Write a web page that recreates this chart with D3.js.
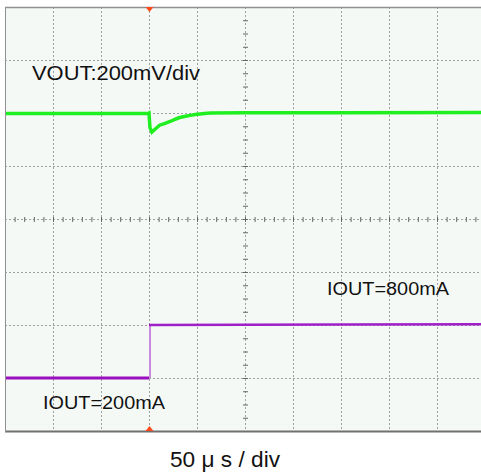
<!DOCTYPE html>
<html>
<head>
<meta charset="utf-8">
<script src="https://cdn.jsdelivr.net/npm/d3@7"></script>
<style>
  body { margin: 0; background: #fff; }
  text { font-family: "Liberation Sans", Arial, sans-serif; fill: #111; }
</style>
</head>
<body>
<script>
// time in microseconds (trigger at 0), 50 us / div, 10 div
const timeDomain = [-150, 350];
const timeGrid = [-150, -100, -50, 0, 50, 100, 150, 200, 250, 300, 350];
// vertical divisions
const divGrid = [-4, -3, -2, -1, 0, 1, 2, 3, 4];

// VOUT deviation (mV), 200 mV/div, channel offset +2 div
const voutT = [-150, -100, -50, -1, 0, 1, 3, 6, 11, 16, 22, 27, 32, 38, 43, 48, 53, 58, 64, 100, 200, 350];
const voutMv = [-2, -2, -2, -2, 0, -55, -72, -62, -46, -40, -32, -24, -17, -12, -9, -6, -4, -2, 0, 1, 1, 2];
const voutOffsetDiv = 2;
const voutPerDiv = 200;

// IOUT (mA), channel offset: 200 mA at -3 div, 600 mA/div
const ioutT = [-150, 0, 0, 100, 200, 350];
const ioutMa = [200, 200, 800, 802, 806, 810];
const ioutBase = 200;
const ioutOffsetDiv = -3;
const ioutPerDiv = 600;

const W = 481, H = 472;
const svg = d3.select('body').append('svg')
  .attr('width', W).attr('height', H);

const x = d3.scaleLinear().domain(timeDomain).range([5, 485]);
const y = d3.scaleLinear().domain([-4, 4]).range([431, 7]);

svg.append('clipPath').attr('id', 'plotclip')
  .append('rect').attr('x', 5).attr('y', 7).attr('width', 476).attr('height', 424);

// plot background
svg.append('rect')
  .attr('x', 5).attr('y', 7).attr('width', 476).attr('height', 424)
  .attr('fill', '#f5f9f6');

const plot = svg.append('g').attr('clip-path', 'url(#plotclip)');

// grid
plot.selectAll('.vgrid').data(timeGrid).enter().append('line')
  .attr('x1', d => x(d) + 0.5).attr('x2', d => x(d) + 0.5)
  .attr('y1', 7).attr('y2', 431)
  .attr('stroke', '#a0a0a0').attr('stroke-dasharray', '2,2');

plot.selectAll('.hgrid').data(divGrid).enter().append('line')
  .attr('y1', d => y(d) + 0.5).attr('y2', d => y(d) + 0.5)
  .attr('x1', 5).attr('x2', 485)
  .attr('stroke', '#a0a0a0').attr('stroke-dasharray', '2,2');

// minor ticks on centre lines
const xCenter = x(100);
const yCenter = y(0);
const vMinor = d3.range(-4, 4.01, 0.25);
plot.selectAll('.vminor').data(vMinor).enter().append('line')
  .attr('x1', xCenter - 2).attr('x2', xCenter + 3)
  .attr('y1', d => y(d) + 0.5).attr('y2', d => y(d) + 0.5)
  .attr('stroke', '#666');
const hMinor = d3.range(-150, 351, 10);
plot.selectAll('.hminor').data(hMinor).enter().append('line')
  .attr('x1', d => x(d) + 0.5).attr('x2', d => x(d) + 0.5)
  .attr('y1', yCenter - 2).attr('y2', yCenter + 3)
  .attr('stroke', '#666');

// traces
const vLine = d3.line()
  .x((d, i) => x(voutT[i]))
  .y(d => y(voutOffsetDiv + d / voutPerDiv));
plot.append('path')
  .attr('d', vLine(voutMv))
  .attr('fill', 'none').attr('stroke', '#1fee1f').attr('stroke-width', 3.5);

const iLine = d3.line()
  .x((d, i) => x(ioutT[i]))
  .y(d => y(ioutOffsetDiv + (d - ioutBase) / ioutPerDiv));
plot.append('path')
  .attr('d', iLine(ioutMa.slice(0, 2)))
  .attr('fill', 'none').attr('stroke', '#9a10c0').attr('stroke-width', 3);
// step edge (lighter)
plot.append('line')
  .attr('x1', x(0) + 1).attr('x2', x(0) + 1)
  .attr('y1', y(ioutOffsetDiv)).attr('y2', y(ioutOffsetDiv + (ioutMa[2] - ioutBase) / ioutPerDiv))
  .attr('stroke', '#c98ade').attr('stroke-width', 2);
plot.append('path')
  .attr('d', d3.line()
    .x((d, i) => x(ioutT[i + 2]))
    .y(d => y(ioutOffsetDiv + (d - ioutBase) / ioutPerDiv))(ioutMa.slice(2)))
  .attr('fill', 'none').attr('stroke', '#a020c8').attr('stroke-width', 2.5);

// borders
svg.append('line').attr('x1', 5).attr('x2', 481).attr('y1', 7.5).attr('y2', 7.5)
  .attr('stroke', '#909090').attr('stroke-width', 1.5);
svg.append('line').attr('x1', 5).attr('x2', 481).attr('y1', 431.5).attr('y2', 431.5)
  .attr('stroke', '#707070').attr('stroke-width', 2);
svg.append('line').attr('x1', 5.5).attr('x2', 5.5).attr('y1', 7).attr('y2', 432)
  .attr('stroke', '#909090');

// trigger markers
const tx = x(0) + 0.5;
svg.append('path')
  .attr('d', `M${tx - 4},7 L${tx + 4},7 L${tx},12 Z`)
  .attr('fill', '#ff4a1a');
svg.append('path')
  .attr('d', `M${tx - 4},431 L${tx + 4},431 L${tx},426 Z`)
  .attr('fill', '#ff4a1a');

// labels
svg.append('text').attr('x', 32).attr('y', 80)
  .style('font-size', '20.5px')
  .attr('textLength', 168).attr('lengthAdjust', 'spacingAndGlyphs')
  .text('VOUT:200mV/div');
svg.append('text').attr('x', 327).attr('y', 295)
  .style('font-size', '17.5px')
  .attr('textLength', 122).attr('lengthAdjust', 'spacingAndGlyphs')
  .text('IOUT=800mA');
svg.append('text').attr('x', 43).attr('y', 409)
  .style('font-size', '18.5px')
  .attr('textLength', 122).attr('lengthAdjust', 'spacingAndGlyphs')
  .text('IOUT=200mA');
svg.append('text').attr('x', 170).attr('y', 467)
  .style('font-size', '22px')
  .attr('textLength', 110).attr('lengthAdjust', 'spacingAndGlyphs')
  .text('50 μ s / div');
</script>
</body>
</html>
